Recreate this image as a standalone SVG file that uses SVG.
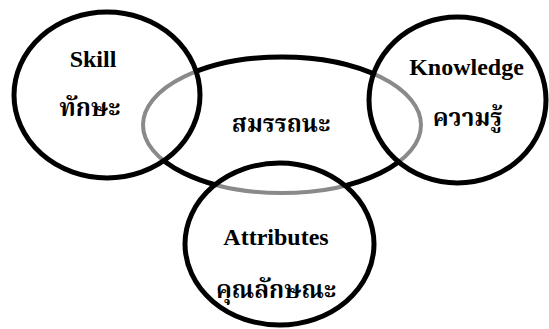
<svg xmlns="http://www.w3.org/2000/svg" width="549" height="329" viewBox="0 0 549 329">
<style>
.ring{fill:none;stroke:#000;stroke-width:5}
.en{font-family:'Liberation Serif','Times New Roman',serif;font-weight:bold;font-size:24px;fill:#000;text-anchor:middle}
.th{font-family:'Liberation Serif','Noto Serif Thai','Noto Sans Thai',serif;font-weight:bold;font-size:24px;fill:#000;text-anchor:middle}
</style>
<defs>
<mask id="outside">
<rect x="0" y="0" width="549" height="329" fill="#fff"/>
<ellipse cx="107" cy="95" rx="93" ry="83" fill="#000"/>
<ellipse cx="457.5" cy="100" rx="88.5" ry="83" fill="#000"/>
<ellipse cx="279.5" cy="244" rx="94.5" ry="81" fill="#000"/>
</mask>
</defs>
<rect width="549" height="329" fill="#fff"/>
<g id="competency">
<ellipse cx="282" cy="125" rx="139" ry="68" fill="none" stroke="#8a8a8a" stroke-width="4"/>
<ellipse cx="282" cy="125" rx="139" ry="68" class="ring" mask="url(#outside)"/>
<text class="th" x="281" y="132">สมรรถนะ</text>
</g>
<g id="skill">
<ellipse cx="107" cy="95" rx="93" ry="83" class="ring"/>
<text class="en" x="93" y="67">Skill</text>
<text class="th" x="90" y="116">ทักษะ</text>
</g>
<g id="knowledge">
<ellipse cx="457.5" cy="100" rx="88.5" ry="83" class="ring"/>
<text class="en" x="466.5" y="75">Knowledge</text>
<text class="th" x="467.5" y="126">ความรู้</text>
</g>
<g id="attributes">
<ellipse cx="279.5" cy="244" rx="94.5" ry="81" class="ring"/>
<text class="en" x="276" y="245">Attributes</text>
<text class="th" x="276" y="298">คุณลักษณะ</text>
</g>
</svg>
